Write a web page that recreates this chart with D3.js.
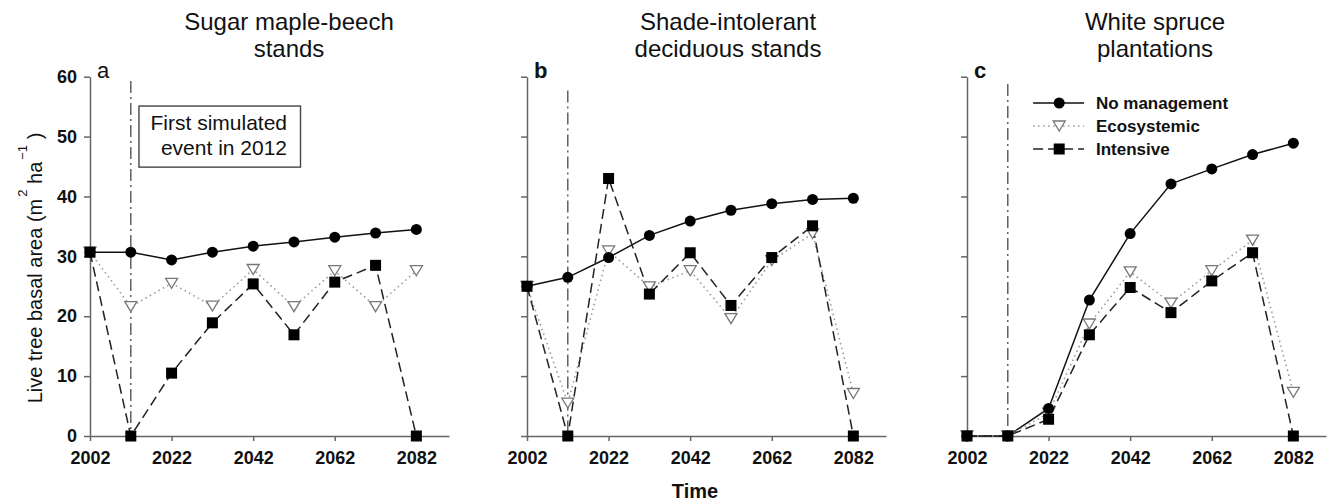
<!DOCTYPE html>
<html>
<head>
<meta charset="utf-8">
<script src="https://cdn.jsdelivr.net/npm/d3@7"></script>
<style>
  html, body { margin: 0; padding: 0; background: #fff; }
  svg { display: block; font-family: "Liberation Sans", Arial, sans-serif; }
</style>
</head>
<body>
<svg id="chart" width="1332" height="503"></svg>
<script>
// ---- data ----
const years = [2002, 2012, 2022, 2032, 2042, 2052, 2062, 2072, 2082];
const xTickValues = [2002, 2022, 2042, 2062, 2082];
const yTickValues = [0, 10, 20, 30, 40, 50, 60];
const seriesNames = ["No management", "Ecosystemic", "Intensive"];
const panelTitles = [
  ["Sugar maple-beech", "stands"],
  ["Shade-intolerant", "deciduous stands"],
  ["White spruce", "plantations"]
];
const panelLetters = ["a", "b", "c"];

const noMgmtA = [30.7, 30.7, 29.4, 30.7, 31.7, 32.4, 33.2, 33.9, 34.5];
const ecoA    = [30.7, 21.6, 25.5, 21.7, 27.8, 21.6, 27.6, 21.6, 27.6];
const intA    = [30.7, 0, 10.5, 18.9, 25.4, 16.9, 25.7, 28.5, 0];

const noMgmtB = [25.0, 26.5, 29.8, 33.5, 35.9, 37.7, 38.8, 39.5, 39.7];
const ecoB    = [25.0, 5.5, 30.9, 24.9, 27.6, 19.6, 29.3, 33.8, 7.1];
const intB    = [25.0, 0, 43.0, 23.7, 30.6, 21.8, 29.8, 35.1, 0];

const noMgmtC = [0, 0, 4.6, 22.7, 33.8, 42.1, 44.6, 47.0, 48.9];
const ecoC    = [0, 0, 3.8, 18.7, 27.4, 22.2, 27.6, 32.7, 7.3];
const intC    = [0, 0, 2.8, 16.9, 24.8, 20.6, 25.9, 30.6, 0];

const eventYear = 2012;
const eventTop = [59.3, 57.7, 58.8];
const annotationLines = ["First simulated", "event in 2012"];

// ---- layout ----
const svg = d3.select("#chart");
const panelLeft = [90, 527, 967];
const panelWidth = 359;
const plotTop = 76.7, plotBottom = 436;
const titleOffset = [199, 201, 188];
const letterWeight = ["normal", "bold", "bold"];
const panelData = [
  [noMgmtA, ecoA, intA],
  [noMgmtB, ecoB, intB],
  [noMgmtC, ecoC, intC]
];

const y = d3.scaleLinear().domain([0, 60]).range([plotBottom, plotTop]);

const styles = [
  { stroke: "#111", width: 1.5, dash: null },
  { stroke: "#9a9a9a", width: 1.6, dash: "1.5,3.5" },
  { stroke: "#222", width: 1.5, dash: "10,5" }
];

const triPath = "M-6,-5 L6,-5 L0,5 Z";

function drawMarker(g, kind, cx, cy) {
  if (kind === 0) {
    g.append("circle").attr("cx", cx).attr("cy", cy).attr("r", 5.5).attr("fill", "#000");
  } else if (kind === 1) {
    g.append("path").attr("d", triPath).attr("transform", `translate(${cx},${cy})`)
      .attr("fill", "#fff").attr("stroke", "#777").attr("stroke-width", 1.3);
  } else {
    g.append("rect").attr("x", cx - 5.5).attr("y", cy - 5.5).attr("width", 11).attr("height", 11).attr("fill", "#000");
  }
}

panelData.forEach((series, p) => {
  const x0 = panelLeft[p];
  const x = d3.scaleLinear().domain([2002, 2090]).range([x0, x0 + panelWidth]);
  const g = svg.append("g");

  // event line
  g.append("line")
    .attr("x1", x(eventYear)).attr("x2", x(eventYear))
    .attr("y1", y(eventTop[p])).attr("y2", y(0))
    .attr("stroke", "#555").attr("stroke-width", 1.4)
    .attr("stroke-dasharray", "12,4,2,4");

  // axes
  const xAxis = d3.axisBottom(x).tickValues(xTickValues).tickFormat(d3.format("d"))
    .tickSize(5).tickSizeOuter(0).tickPadding(10);
  const gx = g.append("g").attr("transform", `translate(0,${plotBottom})`).call(xAxis);
  gx.selectAll("path, line").attr("stroke", "#666").attr("stroke-width", 1.5);
  gx.selectAll("text").attr("font-size", 18).attr("font-weight", "bold").attr("fill", "#111")
    .attr("font-family", "Liberation Sans, Arial, sans-serif");

  const yAxis = d3.axisLeft(y).tickValues(yTickValues).tickSize(6).tickSizeOuter(0).tickPadding(7)
    .tickFormat(p === 0 ? d3.format("d") : () => "");
  const gy = g.append("g").attr("transform", `translate(${x0},0)`).call(yAxis);
  gy.selectAll("path, line").attr("stroke", "#666").attr("stroke-width", 1.5);
  gy.selectAll("text").attr("font-size", 18).attr("font-weight", "bold").attr("fill", "#111")
    .attr("font-family", "Liberation Sans, Arial, sans-serif");

  // lines
  series.forEach((vals, s) => {
    const line = d3.line().x((d, i) => x(years[i])).y(d => y(d));
    g.append("path").datum(vals).attr("d", line)
      .attr("fill", "none").attr("stroke", styles[s].stroke)
      .attr("stroke-width", styles[s].width)
      .attr("stroke-dasharray", styles[s].dash);
  });
  // markers: ecosystemic, intensive, then no management on top
  [1, 2, 0].forEach(s => {
    series[s].forEach((v, i) => drawMarker(g, s, x(years[i]), y(v)));
  });

  // title
  const tcx = x0 + titleOffset[p];
  panelTitles[p].forEach((t, k) => {
    svg.append("text").attr("x", tcx).attr("y", 30 + k * 27)
      .attr("text-anchor", "middle").attr("font-size", 24).attr("fill", "#111").text(t);
  });

  // letter
  svg.append("text").attr("x", x0 + 7).attr("y", 78)
    .attr("font-size", 22).attr("font-weight", letterWeight[p]).attr("fill", "#111")
    .text(panelLetters[p]);

  // annotation in panel a
  if (p === 0) {
    g.append("rect")
      .attr("x", x(2014)).attr("y", y(55.1))
      .attr("width", x(2053.6) - x(2014)).attr("height", y(44.9) - y(55.1))
      .attr("fill", "#fff").attr("stroke", "#444").attr("stroke-width", 1.4);
    annotationLines.forEach((t, k) => {
      g.append("text").attr("x", x(2050.3)).attr("y", 130 + k * 25)
        .attr("text-anchor", "end").attr("font-size", 21).attr("fill", "#111").text(t);
    });
  }

  // legend in panel c
  if (p === 2) {
    const lx1 = x(2018.2), lx2 = x(2030.7), lm = x(2024.6);
    seriesNames.forEach((name, s) => {
      const ly = 103 + s * 23;
      g.append("line").attr("x1", lx1).attr("x2", lx2).attr("y1", ly).attr("y2", ly)
        .attr("stroke", styles[s].stroke).attr("stroke-width", styles[s].width)
        .attr("stroke-dasharray", styles[s].dash);
      drawMarker(g, s, lm, ly);
      g.append("text").attr("x", x(2033.6)).attr("y", ly + 6)
        .attr("font-size", 17).attr("font-weight", "bold").attr("fill", "#111").text(name);
    });
  }
});

// axis titles
const yl = svg.append("text")
  .attr("transform", "translate(42,268) rotate(-90)")
  .attr("text-anchor", "middle").attr("font-size", 20).attr("fill", "#111");
yl.append("tspan").text("Live tree basal area (m");
yl.append("tspan").attr("dy", -15).attr("dx", 2).attr("font-size", 13).text("2");
yl.append("tspan").attr("dy", 15).text(" ha");
yl.append("tspan").attr("dy", -15).attr("dx", 2).attr("font-size", 13).text("−1");
yl.append("tspan").attr("dy", 15).text(" )");

svg.append("text").attr("x", 695).attr("y", 498).attr("text-anchor", "middle")
  .attr("font-size", 20).attr("font-weight", "bold").attr("fill", "#111").text("Time");
</script>
</body>
</html>
